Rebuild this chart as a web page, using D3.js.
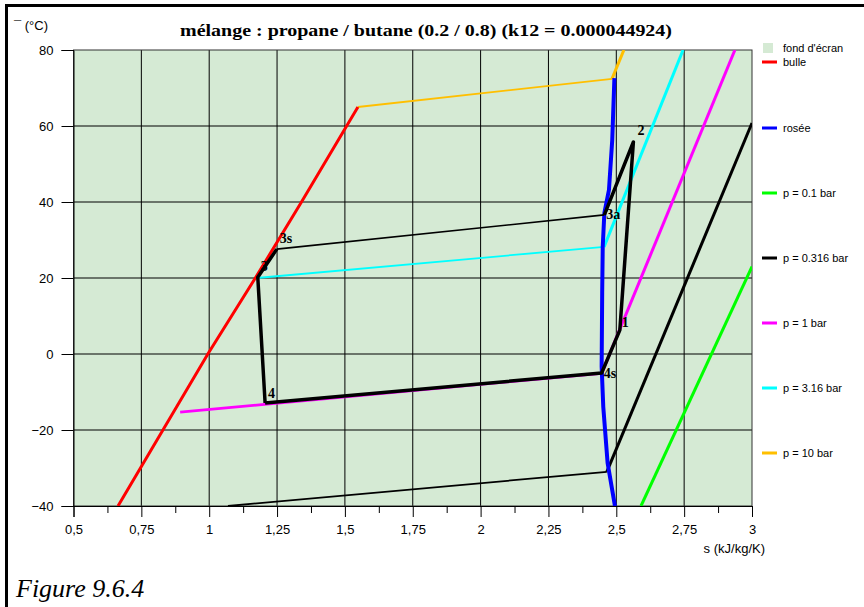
<!DOCTYPE html>
<meta charset="utf-8">
<html>
<head>
<title>mélange propane / butane</title>
<style>
  body { margin: 0; background: #fff; }
  svg text { font-family: "Liberation Sans", Arial, sans-serif; }
</style>
</head>
<body>
<div id="chart"></div>
<script src="https://d3js.org/d3.v7.min.js"></script>
<script>

// ---- data (s in kJ/kg/K, T in °C) ----
var xTicks = [0.5, 0.75, 1, 1.25, 1.5, 1.75, 2, 2.25, 2.5, 2.75, 3];
var xMinor = [0.625, 0.875, 1.125, 1.375, 1.625, 1.875, 2.125, 2.375, 2.625, 2.875];
var yTicks = [-40, -20, 0, 20, 40, 60, 80];

// bubble curve (bulle)
var bulleS = [0.664, 0.995, 1.17, 1.34, 1.548];
var bulleT = [-40, 0, 20, 40, 65];

// dew curve (rosée)
var roseeS = [2.495, 2.468, 2.452, 2.446, 2.448, 2.450, 2.456, 2.473, 2.485, 2.493];
var roseeT = [-40, -28.7, -13.9, -3.3, 16.1, 28.2, 37.1, 43.2, 56.3, 72.6];

// isobars: [two-phase start, dew point, vapour end]
var isoNames = ["p = 0.1 bar", "p = 0.316 bar", "p = 1 bar", "p = 3.16 bar", "p = 10 bar"];
var isoColors = ["#00ff00", "#000000", "#ff00ff", "#00ffff", "#ffbf00"];
var isoS = [[2.591, 3.0], [1.069, 2.465, 3.0], [0.893, 2.446, 2.937], [1.175, 2.455, 2.746], [1.548, 2.484, 2.528]];
var isoT = [[-40, 23], [-40, -31.0, 60.8], [-15.3, -5.1, 80], [20, 28.2, 80], [65, 72.4, 80]];

// refrigeration cycle points
var cycleNames = ["4", "4s", "1", "2", "3a", "3s", "3"];
var cycleS = [1.206, 2.446, 2.513, 2.563, 2.456, 1.249, 1.179];
var cycleT = [-12.9, -5.0, 6.3, 55.8, 36.6, 27.6, 20.2];

var legendNames = ["fond d'écran", "bulle", "rosée"].concat(isoNames);
var legendColors = ["#d5ead4", "#ff0000", "#0000ff"].concat(isoColors);

// ---- layout ----
var W = 864, H = 607;
var margin = {top: 50, right: 112, bottom: 101, left: 73.5},
    width = W - margin.left - margin.right,
    height = H - margin.top - margin.bottom;

var svg = d3.select("#chart")
  .append("svg")
    .attr("width", W)
    .attr("height", H);

// outer frame
svg.append("line").attr("x1", 6.5).attr("x2", W).attr("y1", 5.5).attr("y2", 5.5)
  .attr("stroke", "#000").attr("stroke-width", 3);
svg.append("line").attr("x1", 6.5).attr("x2", 6.5).attr("y1", 4).attr("y2", H)
  .attr("stroke", "#000").attr("stroke-width", 3);

var g = svg.append("g")
  .attr("transform", "translate(" + margin.left + "," + margin.top + ")");

var x = d3.scaleLinear().domain([0.5, 3]).range([0, width]);
var y = d3.scaleLinear().domain([-40, 80]).range([height, 0]);

g.append("rect")
  .attr("width", width).attr("height", height)
  .attr("fill", legendColors[0]);

// grid
g.append("g").selectAll("line")
  .data(xTicks.slice(1, -1))
  .enter().append("line")
    .attr("x1", function(d) { return x(d); })
    .attr("x2", function(d) { return x(d); })
    .attr("y1", 0).attr("y2", height)
    .attr("stroke", "#000").attr("stroke-width", 1);
g.append("g").selectAll("line")
  .data(yTicks.slice(1, -1))
  .enter().append("line")
    .attr("y1", function(d) { return y(d); })
    .attr("y2", function(d) { return y(d); })
    .attr("x1", 0).attr("x2", width)
    .attr("stroke", "#000").attr("stroke-width", 1);

g.append("rect")
  .attr("width", width).attr("height", height)
  .attr("fill", "none").attr("stroke", "#333").attr("stroke-width", 1);

// axes
var xAxis = g.append("g")
  .attr("transform", "translate(0," + height + ")")
  .call(d3.axisBottom(x).tickValues(xTicks).tickSize(11).tickPadding(8)
    .tickFormat(function(d) { return String(d).replace(".", ","); }));
g.append("g")
  .attr("transform", "translate(0," + height + ")")
  .call(d3.axisBottom(x).tickValues(xMinor).tickSize(7).tickFormat(""))
  .select(".domain").remove();
var yAxis = g.append("g")
  .call(d3.axisLeft(y).tickValues(yTicks).tickSize(12).tickPadding(8));

[xAxis, yAxis].forEach(function(a) {
  a.select(".domain").attr("stroke", "#000");
  a.selectAll("text").style("font-size", "13px").attr("fill", "#000")
    .style("font-family", "'Liberation Sans', Arial, sans-serif");
});

// clip for curves
g.append("clipPath").attr("id", "clip")
  .append("rect").attr("width", width).attr("height", height);
var plot = g.append("g").attr("clip-path", "url(#clip)");

var line = d3.line()
  .x(function(d) { return x(d[0]); })
  .y(function(d) { return y(d[1]); });

// isobars
isoS.forEach(function(ss, i) {
  var pts = ss.map(function(s, j) { return [s, isoT[i][j]]; });
  var twoPhase = pts.length > 2 ? pts.slice(0, 2) : [];
  var vapour = pts.length > 2 ? pts.slice(1) : pts;
  if (twoPhase.length)
    plot.append("path").datum(twoPhase)
      .attr("d", line).attr("fill", "none")
      .attr("stroke", isoColors[i]).attr("stroke-width", i == 2 ? 2.6 : 1.8);
  plot.append("path").datum(vapour)
    .attr("d", line).attr("fill", "none")
    .attr("stroke", isoColors[i]).attr("stroke-width", 3);
});

// bubble and dew curves
plot.append("path")
  .datum(bulleS.map(function(s, i) { return [s, bulleT[i]]; }))
  .attr("d", line).attr("fill", "none")
  .attr("stroke", "#ff0000").attr("stroke-width", 3);
plot.append("path")
  .datum(roseeS.map(function(s, i) { return [s, roseeT[i]]; }))
  .attr("d", line).attr("fill", "none")
  .attr("stroke", "#0000ff").attr("stroke-width", 4);

// cycle
var cyc = cycleS.map(function(s, i) { return [s, cycleT[i]]; });
plot.append("path").datum(cyc.slice(0, 5))
  .attr("d", line).attr("fill", "none")
  .attr("stroke", "#000").attr("stroke-width", 3.5).attr("stroke-linejoin", "round");
plot.append("path").datum(cyc.slice(4, 6))
  .attr("d", line).attr("fill", "none")
  .attr("stroke", "#000").attr("stroke-width", 1.6);
plot.append("path").datum(cyc.slice(5).concat([cyc[0]]))
  .attr("d", line).attr("fill", "none")
  .attr("stroke", "#000").attr("stroke-width", 3.5).attr("stroke-linejoin", "round");

var labelOffset = {"4": [3, -5], "4s": [2, 5], "1": [2, -3], "2": [4, -7],
                   "3a": [2, 4], "3s": [3, -6], "3": [3, -6]};
g.append("g").selectAll("text")
  .data(cycleNames)
  .enter().append("text")
    .attr("x", function(d, i) { return x(cycleS[i]) + labelOffset[d][0]; })
    .attr("y", function(d, i) { return y(cycleT[i]) + labelOffset[d][1]; })
    .style("font-family", "'Liberation Serif', 'Times New Roman', serif")
    .style("font-weight", "bold")
    .style("font-size", "14px")
    .text(function(d) { return d; });

// titles
svg.append("text")
  .attr("x", 180).attr("y", 36)
  .attr("textLength", 492)
  .attr("lengthAdjust", "spacingAndGlyphs")
  .style("font-family", "'Liberation Serif', 'Times New Roman', serif")
  .style("font-weight", "bold")
  .style("font-size", "17px")
  .text("mélange : propane / butane (0.2 / 0.8) (k12 = 0.000044924)");

svg.append("text")
  .attr("x", 14).attr("y", 30)
  .style("font-size", "13px")
  .text("¯ (°C)");

svg.append("text")
  .attr("x", 765).attr("y", 553)
  .attr("text-anchor", "end")
  .style("font-size", "13px")
  .text("s (kJ/kg/K)");

svg.append("text")
  .attr("x", 16).attr("y", 597)
  .style("font-family", "'Liberation Serif', 'Times New Roman', serif")
  .style("font-style", "italic")
  .style("font-size", "26px")
  .text("Figure 9.6.4");

// legend
var legendY = [48, 62, 128, 193, 258, 323, 388, 453];
var legend = svg.append("g").selectAll("g")
  .data(legendNames)
  .enter().append("g")
    .attr("transform", function(d, i) { return "translate(762," + legendY[i] + ")"; });
legend.append("rect")
  .attr("x", function(d, i) { return i == 0 ? 1 : 0; })
  .attr("y", function(d, i) { return i == 0 ? -5 : -1.5; })
  .attr("width", function(d, i) { return i == 0 ? 10 : 15; })
  .attr("height", function(d, i) { return i == 0 ? 10 : 3; })
  .attr("fill", function(d, i) { return legendColors[i]; });
legend.append("text")
  .attr("x", 21).attr("y", 0).attr("dy", "0.35em")
  .style("font-size", "11px")
  .text(function(d) { return d; });

</script>
</body>
</html>
